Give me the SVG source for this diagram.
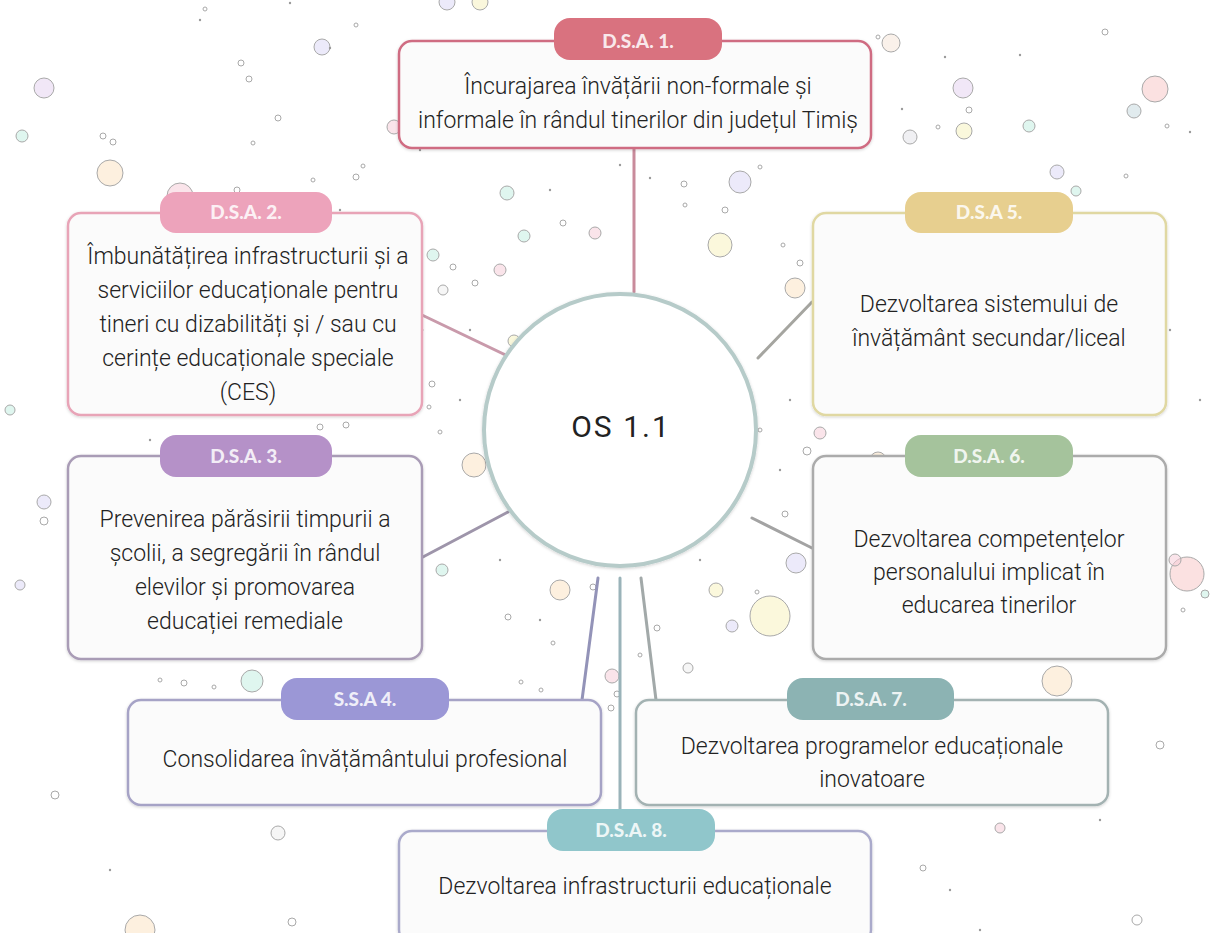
<svg xmlns="http://www.w3.org/2000/svg" width="1211" height="933" viewBox="0 0 1211 933">
<defs>
<filter id="sh" x="-5%" y="-5%" width="110%" height="115%"><feDropShadow dx="0" dy="1" stdDeviation="1.5" flood-color="#000" flood-opacity="0.18"/></filter>
<style>
.box{fill:#fbfbfb;stroke-width:2.5;filter:url(#sh)}
.tag{stroke:none}
.tt{font-family:"Lato","Liberation Sans",sans-serif;font-weight:900;font-size:19px;fill:#ffffff;fill-opacity:0.85;text-anchor:middle}
.t{font-family:"Roboto","Liberation Sans",sans-serif;font-weight:300;font-size:23px;fill:#222222;text-anchor:middle}
.c{fill:none;stroke-width:3;stroke-linecap:round}
.b{stroke:#a9a9a9;stroke-width:1;fill-opacity:0.55}
.d{fill:#9a9a9a}
.o{fill:none;stroke:#a9a9a9;stroke-width:1}
</style>
</defs>
<rect width="1211" height="933" fill="#ffffff"/>
<g id="bubbles">
<circle class="b" cx="44" cy="88" r="10" fill="#e6d4f0"/>
<circle class="b" cx="22" cy="136" r="6" fill="#c4efe2"/>
<circle class="b" cx="110" cy="173" r="13" fill="#fbe3c4"/>
<circle class="b" cx="180" cy="196" r="13" fill="#f6cdd9"/>
<circle class="b" cx="322" cy="47" r="8" fill="#ddd9f6"/>
<circle class="b" cx="447" cy="2" r="8" fill="#ddd9f6"/>
<circle class="b" cx="480" cy="2" r="8" fill="#f6f0bf"/>
<circle class="b" cx="394" cy="127" r="7" fill="#f6cdd9"/>
<circle class="b" cx="740" cy="182" r="11" fill="#ddd9f6"/>
<circle class="b" cx="720" cy="245" r="12" fill="#f8f3bf"/>
<circle class="b" cx="795" cy="288" r="10" fill="#fbe3c4"/>
<circle class="b" cx="963" cy="88" r="10" fill="#e6d4f0"/>
<circle class="b" cx="964" cy="131" r="8" fill="#f6f3bf"/>
<circle class="b" cx="910" cy="137" r="7" fill="#e4e4ea"/>
<circle class="b" cx="891" cy="43" r="9" fill="#f6e6d8"/>
<circle class="b" cx="1155" cy="89" r="13" fill="#f8c8c8"/>
<circle class="b" cx="1134" cy="111" r="7" fill="#c9dbe0"/>
<circle class="b" cx="1029" cy="126" r="6" fill="#c4efe2"/>
<circle class="b" cx="1057" cy="172" r="7" fill="#ddd9f6"/>
<circle class="b" cx="1076" cy="191" r="5" fill="#c4efe2"/>
<circle class="b" cx="507" cy="193" r="7" fill="#c4efe2"/>
<circle class="b" cx="524" cy="236" r="6" fill="#c4efe2"/>
<circle class="b" cx="595" cy="233" r="6" fill="#f6cdd9"/>
<circle class="b" cx="500" cy="270" r="6" fill="#f6cdd9"/>
<circle class="b" cx="433" cy="255" r="6" fill="#c4efe2"/>
<circle class="b" cx="443" cy="290" r="5" fill="#eeeeee"/>
<circle class="b" cx="514" cy="341" r="6" fill="#f6f3bf"/>
<circle class="b" cx="474" cy="465" r="12" fill="#fbe3c4"/>
<circle class="b" cx="560" cy="590" r="10" fill="#fbe3c4"/>
<circle class="b" cx="612" cy="676" r="7" fill="#f6cdd9"/>
<circle class="b" cx="770" cy="616" r="20" fill="#f8f3bf"/>
<circle class="b" cx="796" cy="563" r="10" fill="#ddd9f6"/>
<circle class="b" cx="716" cy="590" r="7" fill="#f8f3bf"/>
<circle class="b" cx="732" cy="626" r="6" fill="#ddd9f6"/>
<circle class="b" cx="1057" cy="681" r="15" fill="#fbe3c4"/>
<circle class="b" cx="1187" cy="574" r="17" fill="#f8c8c8"/>
<circle class="b" cx="1175" cy="560" r="6" fill="#f6cdd9"/>
<circle class="b" cx="820" cy="433" r="6" fill="#f6cdd9"/>
<circle class="b" cx="878" cy="460" r="8" fill="#fbe3c4"/>
<circle class="b" cx="44" cy="502" r="7" fill="#ddd9f6"/>
<circle class="b" cx="252" cy="681" r="11" fill="#c4efe2"/>
<circle class="b" cx="140" cy="930" r="15" fill="#fbe3c4"/>
<circle class="b" cx="278" cy="833" r="7" fill="#eeeeee"/>
<circle class="b" cx="1000" cy="828" r="5" fill="#f6cdd9"/>
<circle class="b" cx="442" cy="570" r="6" fill="#c4efe2"/>
<circle class="b" cx="10" cy="410" r="5" fill="#c4efe2"/>
<circle class="b" cx="20" cy="585" r="5" fill="#ddd9f6"/>
<circle class="b" cx="1205" cy="594" r="4" fill="#c4efe2"/>
<circle class="b" cx="688" cy="668" r="5" fill="#eeeeee"/>
<circle class="o" cx="44" cy="521" r="4"/>
<circle class="o" cx="103" cy="136" r="3"/>
<circle class="o" cx="113" cy="142" r="3"/>
<circle class="o" cx="241" cy="63" r="3"/>
<circle class="o" cx="249" cy="79" r="3"/>
<circle class="o" cx="278" cy="118" r="3"/>
<circle class="o" cx="253" cy="143" r="2"/>
<circle class="o" cx="205" cy="9" r="2"/>
<circle class="o" cx="356" cy="25" r="2"/>
<circle class="o" cx="313" cy="180" r="2"/>
<circle class="o" cx="356" cy="177" r="3"/>
<circle class="o" cx="363" cy="166" r="2"/>
<circle class="o" cx="237" cy="190" r="3"/>
<circle class="o" cx="878" cy="37" r="2"/>
<circle class="o" cx="969" cy="110" r="3"/>
<circle class="o" cx="938" cy="127" r="2"/>
<circle class="o" cx="1105" cy="32" r="3"/>
<circle class="o" cx="1126" cy="176" r="2"/>
<circle class="o" cx="1167" cy="126" r="2"/>
<circle class="o" cx="800" cy="263" r="3"/>
<circle class="o" cx="684" cy="184" r="3"/>
<circle class="o" cx="685" cy="205" r="2"/>
<circle class="o" cx="725" cy="210" r="3"/>
<circle class="o" cx="760" cy="167" r="2"/>
<circle class="o" cx="783" cy="245" r="2"/>
<circle class="o" cx="563" cy="223" r="3"/>
<circle class="o" cx="453" cy="267" r="3"/>
<circle class="o" cx="475" cy="283" r="3"/>
<circle class="o" cx="421" cy="330" r="2"/>
<circle class="o" cx="432" cy="384" r="3"/>
<circle class="o" cx="429" cy="407" r="2"/>
<circle class="o" cx="346" cy="425" r="3"/>
<circle class="o" cx="320" cy="427" r="3"/>
<circle class="o" cx="440" cy="432" r="2"/>
<circle class="o" cx="807" cy="451" r="4"/>
<circle class="o" cx="785" cy="514" r="3"/>
<circle class="o" cx="760" cy="430" r="2"/>
<circle class="o" cx="757" cy="592" r="2"/>
<circle class="o" cx="593" cy="587" r="3"/>
<circle class="o" cx="617" cy="694" r="3"/>
<circle class="o" cx="611" cy="708" r="3"/>
<circle class="o" cx="657" cy="628" r="3"/>
<circle class="o" cx="640" cy="655" r="2"/>
<circle class="o" cx="508" cy="617" r="3"/>
<circle class="o" cx="553" cy="643" r="2"/>
<circle class="o" cx="521" cy="682" r="2"/>
<circle class="o" cx="160" cy="680" r="2"/>
<circle class="o" cx="184" cy="683" r="3"/>
<circle class="o" cx="214" cy="687" r="2"/>
<circle class="o" cx="541" cy="690" r="2"/>
<circle class="o" cx="1160" cy="745" r="4"/>
<circle class="o" cx="55" cy="795" r="4"/>
<circle class="o" cx="1137" cy="920" r="5"/>
<circle class="o" cx="923" cy="868" r="3"/>
<circle class="o" cx="292" cy="922" r="4"/>
<circle class="o" cx="1183" cy="610" r="2"/>
<circle class="o" cx="1010" cy="560" r="2"/>
<circle cx="110" cy="870" r="1.2" class="d"/>
<circle cx="200" cy="20" r="1.2" class="d"/>
<circle cx="290" cy="3" r="1.2" class="d"/>
<circle cx="330" cy="48" r="1.2" class="d"/>
<circle cx="1170" cy="330" r="1.2" class="d"/>
<circle cx="1200" cy="400" r="1.2" class="d"/>
<circle cx="1190" cy="132" r="1.2" class="d"/>
<circle cx="902" cy="109" r="1.2" class="d"/>
<circle cx="945" cy="57" r="1.2" class="d"/>
<circle cx="1020" cy="55" r="1.2" class="d"/>
<circle cx="650" cy="178" r="1.2" class="d"/>
<circle cx="550" cy="190" r="1.2" class="d"/>
<circle cx="470" cy="330" r="1.2" class="d"/>
<circle cx="460" cy="400" r="1.2" class="d"/>
<circle cx="500" cy="560" r="1.2" class="d"/>
<circle cx="780" cy="470" r="1.2" class="d"/>
<circle cx="790" cy="400" r="1.2" class="d"/>
<circle cx="700" cy="560" r="1.2" class="d"/>
<circle cx="540" cy="620" r="1.2" class="d"/>
<circle cx="150" cy="440" r="1.2" class="d"/>
<circle cx="230" cy="610" r="1.2" class="d"/>
<circle cx="340" cy="210" r="1.2" class="d"/>
<circle cx="1100" cy="820" r="1.2" class="d"/>
<circle cx="950" cy="890" r="1.2" class="d"/>
<circle cx="980" cy="930" r="1.2" class="d"/>
<circle cx="420" cy="150" r="1.2" class="d"/>
<circle cx="620" cy="165" r="1.2" class="d"/>
</g>
<g id="connectors">
<line class="c" x1="634" y1="148" x2="634" y2="292" stroke="#c98b9b"/>
<line class="c" x1="422" y1="315" x2="512" y2="358" stroke="#c99aab"/>
<line class="c" x1="421" y1="558" x2="508" y2="512" stroke="#9e95aa"/>
<line class="c" x1="758" y1="358" x2="812" y2="302" stroke="#a5a5a0"/>
<line class="c" x1="752" y1="518" x2="812" y2="548" stroke="#a3a3a3"/>
<line class="c" x1="598" y1="578" x2="582" y2="700" stroke="#9393b8"/>
<line class="c" x1="641" y1="578" x2="656" y2="700" stroke="#a2a9a9"/>
<line class="c" x1="620" y1="578" x2="620" y2="832" stroke="#9ab3b9"/>
</g>
<g id="center">
<circle cx="620" cy="430" r="136" fill="#ffffff" stroke="#b6cbc9" stroke-width="4" filter="url(#sh)"/>
<text x="621" y="437" font-family="Roboto,'Liberation Sans',sans-serif" font-size="30" fill="#222" text-anchor="middle" letter-spacing="2">OS 1.1</text>
</g>
<g id="n1">
<rect class="box" x="399" y="41" width="472" height="107" rx="13" stroke="#cf6c82"/>
<rect class="tag" x="554" y="18" width="168" height="42" rx="16" fill="#d9727f"/>
<text class="tt" x="638" y="48">D.S.A. 1.</text>
<text class="t" x="638" y="94">Încurajarea învățării non-formale și</text>
<text class="t" x="638" y="128">informale în rândul tinerilor din județul Timiș</text>
</g>
<g id="n2">
<rect class="box" x="68" y="213" width="354" height="202" rx="13" stroke="#e8a4b7"/>
<rect class="tag" x="160" y="192" width="172" height="41" rx="16" fill="#eda3bb"/>
<text class="tt" x="246" y="219">D.S.A. 2.</text>
<text class="t" x="248" y="264">Îmbunătățirea infrastructurii și a</text>
<text class="t" x="248" y="298">serviciilor educaționale pentru</text>
<text class="t" x="248" y="332">tineri cu dizabilități și / sau cu</text>
<text class="t" x="248" y="366">cerințe educaționale speciale</text>
<text class="t" x="248" y="400">(CES)</text>
</g>
<g id="n3">
<rect class="box" x="68" y="456" width="354" height="203" rx="13" stroke="#a99cb6"/>
<rect class="tag" x="160" y="435" width="172" height="42" rx="16" fill="#b591c8"/>
<text class="tt" x="246" y="463">D.S.A. 3.</text>
<text class="t" x="245" y="527">Prevenirea părăsirii timpurii a</text>
<text class="t" x="245" y="561">școlii, a segregării în rândul</text>
<text class="t" x="245" y="595">elevilor și promovarea</text>
<text class="t" x="245" y="629">educației remediale</text>
</g>
<g id="n4">
<rect class="box" x="128" y="700" width="473" height="105" rx="13" stroke="#a6a3c6"/>
<rect class="tag" x="281" y="678" width="168" height="42" rx="16" fill="#9b97d6"/>
<text class="tt" x="365" y="706">S.S.A 4.</text>
<text class="t" x="365" y="767">Consolidarea învățământului profesional</text>
</g>
<g id="n5">
<rect class="box" x="813" y="213" width="353" height="202" rx="13" stroke="#e0d8a2"/>
<rect class="tag" x="905" y="192" width="168" height="41" rx="16" fill="#e7cf8f"/>
<text class="tt" x="989" y="219">D.S.A 5.</text>
<text class="t" x="989" y="312">Dezvoltarea sistemului de</text>
<text class="t" x="989" y="346">învățământ secundar/liceal</text>
</g>
<g id="n6">
<rect class="box" x="813" y="456" width="353" height="203" rx="13" stroke="#ababab"/>
<rect class="tag" x="905" y="435" width="168" height="42" rx="16" fill="#a5c39c"/>
<text class="tt" x="989" y="463">D.S.A. 6.</text>
<text class="t" x="989" y="547">Dezvoltarea competențelor</text>
<text class="t" x="989" y="580">personalului implicat în</text>
<text class="t" x="989" y="613">educarea tinerilor</text>
</g>
<g id="n7">
<rect class="box" x="636" y="700" width="472" height="105" rx="13" stroke="#a3b2b2"/>
<rect class="tag" x="787" y="678" width="167" height="42" rx="16" fill="#8cb3b3"/>
<text class="tt" x="871" y="706">D.S.A. 7.</text>
<text class="t" x="872" y="754">Dezvoltarea programelor educaționale</text>
<text class="t" x="872" y="787">inovatoare</text>
</g>
<g id="n8">
<rect class="box" x="399" y="831" width="472" height="112" rx="13" stroke="#aaaacb"/>
<rect class="tag" x="547" y="809" width="168" height="42" rx="16" fill="#90c6cb"/>
<text class="tt" x="631" y="837">D.S.A. 8.</text>
<text class="t" x="635" y="894">Dezvoltarea infrastructurii educaționale</text>
</g>
</svg>
